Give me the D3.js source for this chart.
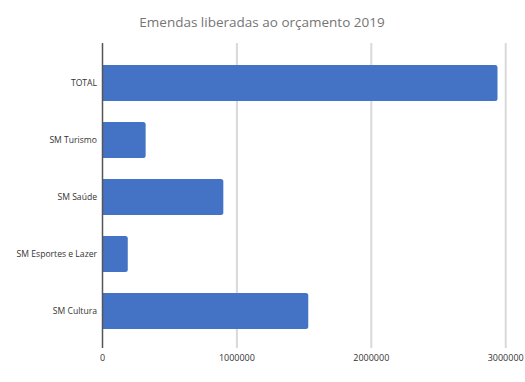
<!DOCTYPE html>
<html><head><meta charset="utf-8">
<script src="https://cdn.jsdelivr.net/npm/d3@7"></script>
<style>body{margin:0;background:#fff}svg{display:block}</style>
</head><body>
<svg id="c" width="525" height="382"></svg>
<script>
const categories = ["TOTAL", "SM Turismo", "SM Saúde", "SM Esportes e Lazer", "SM Cultura"];
const values = [2939000, 321000, 899000, 188000, 1531000];
const tickValues = [0, 1000000, 2000000, 3000000];
const title = "Emendas liberadas ao orçamento 2019";

const svg = d3.select("#c");
const font = "'Open Sans', sans-serif";
const x = d3.scaleLinear().domain([0, 3000000]).range([102.5, 505.7]);
const y = d3.scaleBand().domain(categories).range([54.5, 339.5]).paddingInner(0.37).paddingOuter(0.185);

// gridlines
svg.append("g").selectAll("line").data(tickValues.slice(1)).join("line")
  .attr("x1", d => x(d)).attr("x2", d => x(d)).attr("y1", 43).attr("y2", 348)
  .attr("stroke", "#d9d9d9").attr("stroke-width", 2);

// bars
svg.append("g").selectAll("path").data(categories).join("path")
  .attr("fill", "#4472c4")
  .attr("d", (c, i) => {
    const x0 = x(0) + 0.5, x1 = x(values[i]), y0 = y(c), h = y.bandwidth(), r = 2.5;
    return `M${x0},${y0}H${x1 - r}Q${x1},${y0} ${x1},${y0 + r}V${y0 + h - r}Q${x1},${y0 + h} ${x1 - r},${y0 + h}H${x0}Z`;
  });

// axis line
svg.append("line").attr("x1", x(0)).attr("x2", x(0)).attr("y1", 43).attr("y2", 348)
  .attr("stroke", "#555").attr("stroke-width", 1.5);

// category labels
svg.append("g").selectAll("text").data(categories).join("text")
  .attr("x", 97).attr("y", c => y(c) + y.bandwidth() / 2).attr("dy", "0.35em")
  .attr("text-anchor", "end").attr("font-family", font).attr("font-size", 8.6)
  .attr("fill", "#333").text(c => c);

// tick labels
svg.append("g").selectAll("text").data(tickValues).join("text")
  .attr("x", d => x(d)).attr("y", 361).attr("text-anchor", "middle")
  .attr("font-family", font).attr("font-size", 9).attr("fill", "#333")
  .text(d => d3.format("d")(d));

// title
svg.append("text").attr("x", 262).attr("y", 27).attr("text-anchor", "middle")
  .attr("font-family", font).attr("font-size", 13.5).attr("fill", "#757575").text(title);
</script>
</body></html>
